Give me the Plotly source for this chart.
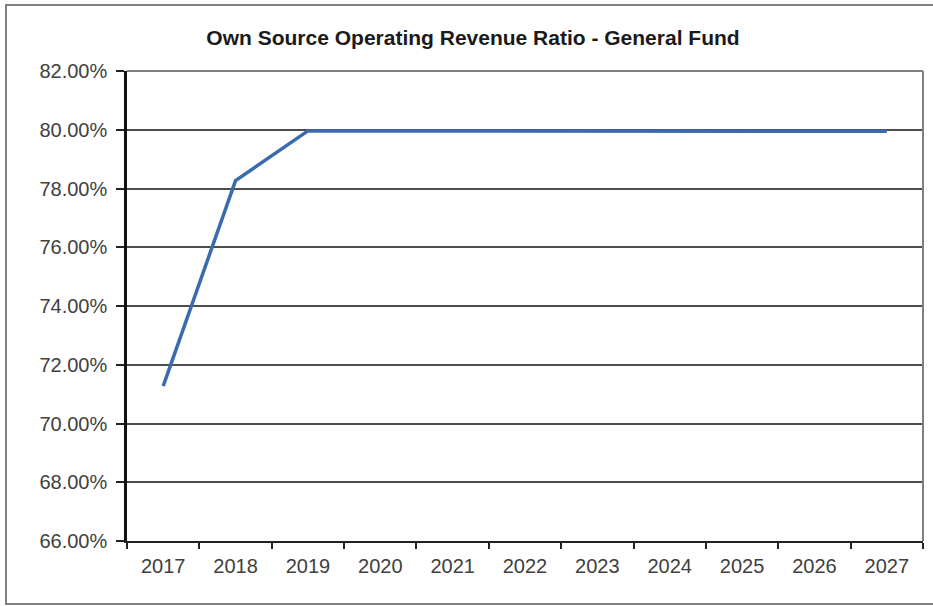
import plotly.graph_objects as go

years = ["2017", "2018", "2019", "2020", "2021", "2022", "2023", "2024", "2025", "2026", "2027"]
ratio_pct = [71.27, 78.27, 79.96, 79.96, 79.96, 79.96, 79.96, 79.96, 79.96, 79.96, 79.95]
y_ticks = [66, 68, 70, 72, 74, 76, 78, 80, 82]

W, H = 933, 606
L, R, T, B = 127, 10, 71, 65

fig = go.Figure()
fig.add_trace(go.Scatter(
    x=years, y=ratio_pct, mode="lines",
    line=dict(color="#3A6BB0", width=3.5),
    hoverinfo="skip", showlegend=False,
))

fig.update_layout(
    width=W, height=H,
    margin=dict(l=L, r=R, t=T, b=B),
    paper_bgcolor="white", plot_bgcolor="white",
    font=dict(family="Liberation Sans, Arial, sans-serif", size=20, color="#404040"),
    title=dict(
        text="<b>Own Source Operating Revenue Ratio - General Fund</b>",
        font=dict(family="Liberation Sans, Arial, sans-serif", size=21, color="#1a1a1a"),
        x=473 / W, xanchor="center", xref="container",
        y=1 - 38 / H, yanchor="middle", yref="container",
    ),
    xaxis=dict(
        type="category", range=[-0.5, 10.5],
        tickson="boundaries", ticks="outside", ticklen=6, tickwidth=1.5, tickcolor="#222",
        ticklabelstandoff=6,
        showgrid=False, showline=True, linecolor="#222", linewidth=2,
        tickfont=dict(size=20, color="#404040"),
    ),
    yaxis=dict(
        range=[66, 82], tickvals=y_ticks,
        ticktext=[f"{v:.2f}%" for v in y_ticks],
        ticks="outside", ticklen=8, tickwidth=1.5, tickcolor="#222",
        ticklabelstandoff=5,
        showgrid=True, gridcolor="#4d4d4d", gridwidth=1.5,
        showline=True, linecolor="#111", linewidth=2.5,
        zeroline=False,
        tickfont=dict(size=20, color="#404040"),
    ),
    shapes=[
        # top and right edges of the plot area
        dict(type="line", xref="paper", yref="paper", x0=0, x1=1, y0=1, y1=1,
             line=dict(color="#808080", width=2)),
        dict(type="line", xref="paper", yref="paper", x0=1, x1=1, y0=0, y1=1,
             line=dict(color="#808080", width=2)),
        # outer frame of the chart
        dict(type="rect", xref="paper", yref="paper",
             x0=(6 - L) / (W - L - R), x1=(W + 5 - L) / (W - L - R),
             y0=-(604 - (H - B)) / (H - T - B), y1=1 + (T - 5) / (H - T - B),
             line=dict(color="#808080", width=2), fillcolor="rgba(0,0,0,0)", layer="below"),
    ],
)

fig.write_html("out.html")
